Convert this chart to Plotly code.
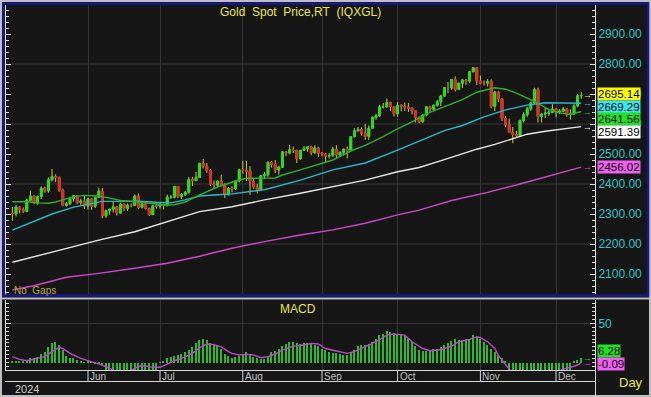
import pandas as pd
import plotly.graph_objects as go

# ---------------- data ----------------
dates = pd.bdate_range("2024-05-03", "2024-12-11").strftime("%Y-%m-%d").tolist()

open_ = [
    2303, 2301, 2323, 2314, 2309, 2346, 2360, 2336, 2358, 2386, 2377, 2414, 2425, 2421, 2379, 2329, 2334, 2351, 2361, 2338, 2343,
    2327, 2350, 2326, 2355, 2376, 2294, 2311, 2316, 2324, 2303, 2333, 2319, 2329, 2328, 2360, 2322, 2334, 2319, 2298, 2327,
    2326, 2332, 2330, 2356, 2356, 2392, 2358, 2364, 2372, 2415, 2411, 2422, 2469, 2459, 2445, 2400, 2396, 2409, 2398, 2364, 2386, 2384, 2410,
    2447, 2446, 2443, 2409, 2390, 2382, 2427, 2431, 2472, 2465, 2447, 2456, 2507, 2503, 2514, 2512, 2484, 2512, 2518, 2524, 2504, 2520,
    2503, 2500, 2493, 2495, 2516, 2497, 2506, 2516, 2512, 2558, 2577, 2582, 2569, 2559, 2586, 2622, 2628, 2657, 2657, 2672, 2658,
    2634, 2662, 2659, 2656, 2653, 2644, 2622, 2608, 2630, 2657, 2649, 2662, 2674, 2693, 2721, 2720, 2748, 2715, 2736, 2747, 2743, 2774, 2788,
    2743, 2736, 2736, 2742, 2659, 2706, 2684, 2618, 2598, 2572, 2565, 2562, 2612, 2631, 2651, 2670, 2715, 2625, 2633, 2636, 2639,
    2650, 2640, 2643, 2650, 2632, 2633, 2660, 2694,
]
high = [
    2324, 2331, 2326, 2322, 2351, 2378, 2361, 2362, 2392, 2391, 2422, 2450, 2432, 2425, 2385, 2340, 2358, 2364, 2362, 2351, 2360,
    2354, 2353, 2359, 2388, 2387, 2315, 2318, 2342, 2327, 2338, 2334, 2335, 2335, 2365, 2368, 2335, 2337, 2320, 2331, 2340,
    2339, 2334, 2365, 2363, 2392, 2393, 2370, 2377, 2424, 2424, 2440, 2469, 2483, 2470, 2450, 2412, 2412, 2431, 2403, 2390, 2393, 2413, 2451,
    2478, 2477, 2460, 2417, 2401, 2431, 2440, 2476, 2477, 2480, 2461, 2509, 2510, 2531, 2525, 2514, 2513, 2527, 2525, 2527, 2529, 2524,
    2505, 2503, 2503, 2524, 2529, 2507, 2518, 2525, 2560, 2586, 2590, 2589, 2600, 2595, 2625, 2634, 2664, 2670, 2685, 2674, 2659,
    2673, 2666, 2672, 2670, 2654, 2645, 2625, 2633, 2660, 2660, 2665, 2680, 2697, 2722, 2740, 2749, 2759, 2736, 2748, 2749, 2775, 2790, 2790,
    2761, 2745, 2750, 2749, 2710, 2709, 2686, 2626, 2618, 2590, 2578, 2615, 2639, 2657, 2674, 2721, 2721, 2637, 2655, 2647, 2666,
    2651, 2650, 2657, 2652, 2649, 2668, 2700, 2707,
]
low = [
    2277, 2292, 2302, 2303, 2306, 2341, 2333, 2331, 2350, 2371, 2371, 2409, 2406, 2374, 2326, 2325, 2331, 2341, 2333, 2328, 2317,
    2315, 2314, 2320, 2354, 2286, 2287, 2298, 2305, 2295, 2302, 2310, 2310, 2322, 2327, 2317, 2318, 2315, 2294, 2298, 2318,
    2318, 2315, 2325, 2350, 2352, 2353, 2350, 2360, 2368, 2393, 2410, 2421, 2452, 2437, 2393, 2384, 2389, 2397, 2353, 2364, 2372, 2380, 2405,
    2434, 2410, 2364, 2384, 2369, 2378, 2416, 2424, 2455, 2436, 2431, 2455, 2493, 2499, 2503, 2470, 2481, 2510, 2507, 2496, 2502, 2490,
    2492, 2472, 2484, 2490, 2485, 2494, 2500, 2485, 2510, 2555, 2576, 2561, 2547, 2546, 2585, 2614, 2623, 2652, 2655, 2643, 2625,
    2624, 2642, 2643, 2640, 2632, 2605, 2603, 2604, 2626, 2640, 2646, 2658, 2660, 2692, 2703, 2714, 2708, 2714, 2720, 2730, 2737, 2773, 2730,
    2732, 2728, 2725, 2652, 2643, 2673, 2610, 2589, 2572, 2536, 2556, 2560, 2605, 2623, 2643, 2670, 2605, 2605, 2620, 2627, 2636,
    2622, 2633, 2639, 2624, 2615, 2631, 2656, 2684,
]
close = [
    2301, 2323, 2314, 2309, 2346, 2360, 2336, 2358, 2386, 2377, 2414, 2425, 2421, 2379, 2329, 2334, 2351, 2361, 2338, 2343, 2327,
    2350, 2326, 2355, 2376, 2294, 2311, 2316, 2324, 2303, 2333, 2319, 2329, 2328, 2360, 2322, 2334, 2319, 2298, 2327, 2326,
    2332, 2330, 2356, 2356, 2392, 2358, 2364, 2372, 2415, 2411, 2422, 2469, 2459, 2445, 2400, 2396, 2409, 2398, 2364, 2386, 2384, 2410, 2447,
    2446, 2443, 2409, 2390, 2382, 2427, 2431, 2472, 2465, 2447, 2456, 2507, 2503, 2514, 2512, 2484, 2512, 2518, 2524, 2504, 2520, 2503,
    2500, 2493, 2495, 2516, 2497, 2506, 2516, 2512, 2558, 2577, 2582, 2569, 2559, 2586, 2622, 2628, 2657, 2657, 2672, 2658, 2634,
    2662, 2659, 2656, 2653, 2644, 2622, 2608, 2630, 2657, 2649, 2662, 2674, 2693, 2721, 2720, 2748, 2715, 2736, 2747, 2743, 2774, 2788, 2743,
    2736, 2736, 2742, 2659, 2706, 2684, 2618, 2598, 2572, 2565, 2562, 2612, 2631, 2651, 2670, 2715, 2625, 2633, 2636, 2639, 2650,
    2640, 2643, 2650, 2632, 2633, 2660, 2694, 2695.14,
]

# moving averages, read at sampled trading days (index into dates)
ma_fast_days = [0, 4, 7, 10, 12, 14, 17, 20, 24, 27, 30, 35, 39, 43, 45, 48, 52, 55, 57, 62, 65, 73, 75, 80, 84, 89, 94, 98,
                103, 106, 111, 115, 120, 125, 129, 134, 137, 140, 143, 146, 149, 152, 155, 158]
ma_fast = [2341, 2341, 2337, 2336, 2340, 2347, 2358, 2362, 2360, 2353, 2345, 2340, 2336, 2330, 2331, 2340, 2364, 2380, 2390,
           2410, 2419, 2420, 2430, 2447, 2462, 2480, 2510, 2529, 2558, 2578, 2607, 2634, 2658, 2681, 2706, 2721, 2716, 2703,
           2686, 2669, 2648, 2637, 2632, 2641.56]

ma_mid_days = [0, 6, 11, 17, 21, 25, 30, 35, 40, 44, 48, 52, 57, 61, 70, 80, 89, 98, 107, 115, 120, 125, 131, 137, 143, 148,
               152, 158]
ma_mid = [2246, 2274, 2300, 2323, 2332, 2342, 2342, 2343, 2339, 2337, 2347, 2360, 2364, 2367, 2381, 2413, 2447, 2470, 2513,
          2554, 2578, 2595, 2624, 2647, 2663, 2671, 2671, 2669.29]

ma_slow_days = [0, 6, 15, 24, 34, 43, 52, 61, 70, 80, 89, 98, 107, 113, 118, 123, 129, 134, 139, 143, 148, 152, 158]
ma_slow = [2139, 2158, 2186, 2213, 2241, 2274, 2308, 2324, 2347, 2369, 2391, 2413, 2441, 2455, 2474, 2494, 2516, 2532, 2552,
           2566, 2576, 2583, 2591.39]

ma_long_days = [0, 6, 15, 24, 34, 43, 52, 61, 70, 80, 89, 98, 107, 113, 122, 132, 141, 150, 158]
ma_long = [2047, 2061, 2089, 2102, 2119, 2136, 2159, 2186, 2208, 2230, 2247, 2269, 2297, 2313, 2345, 2372, 2400, 2430, 2456.02]

macd_hist = [
    2.5, 2, 2, 2, 3.4, 5.5, 6.3, 7.6, 11, 14, 19.5, 24.5, 25.8, 22.4, 16, 8.9, 6.3, 5.5, 3.4, 2, 0.8, 1.3, 0.2, -1.7, -2, -3,
    -10, -12, -14, -15, -16, -15, -14, -13, -12, -12, -11, -11, -10, -10, -10,
    0.8, 2.5, 5.5, 7.6, 8.5, 9.3, 11, 14, 16, 19.5, 24.5, 28.5, 29.6, 28.8, 25.5, 22.7, 21, 17, 11.5, 9, 6.5, 7.5, 9, 9.7,
    14, 9.7, 7.6, 5.5, 4.2, 4.6, 9, 13, 15, 17, 21, 24, 25.8, 26.6, 24.5, 23.7, 25.4, 24.5, 24.5, 23, 21.5, 18, 16, 14,
    12.7, 11.8, 11, 9.7, 9.7, 12, 16, 21, 23, 22.4, 23.5, 26, 29.6, 35, 37, 40.6, 39, 38, 37, 37, 34, 30, 26, 21.5, 16, 15,
    15, 16, 17, 18, 20, 22.4, 24.5, 28, 29.6, 29, 29, 29.6, 29, 35, 33, 29.6, 26.6, 22.4, 18, 14, 9.7, 5.5, 1.3,
    -10, -13, -17, -21, -24, -26, -27, -27, -26, -25, -23, -21, -19, -17, -15, -13, -12, -10,
    1.3, 3.4, 6.28,
]
signal_days = [0, 2, 4, 6, 9, 11, 13, 14, 16, 19, 21, 23, 25, 27, 29, 31, 33, 34, 35, 37, 39, 41, 43, 45, 47, 48, 50, 52, 54,
               56, 58, 60, 61, 63, 65, 67, 69, 71, 73, 75, 78, 81, 83, 85, 87, 90, 93, 95, 97, 98, 101, 104, 106, 109, 111,
               114, 116, 119, 122, 124, 127, 129, 130, 132, 134, 135, 136, 137, 138, 139, 142, 146, 150, 152, 153, 155, 157, 158]
signal = [7.6, 4.2, 2.5, 4.2, 7.6, 14, 19.5, 18, 11.8, 5.5, 2.5, 0, -3, -7.2, -11, -12, -9, -7.6, -4.2, -4.2, -5.9, -5.9,
          -1.7, 2.5, 5.5, 7.6, 11.8, 19, 23.7, 23, 20, 14, 11.8, 9.7, 10.6, 9.7, 6.3, 7.6, 11, 16, 21, 22.4, 24.5, 23.7, 18,
          14.8, 11.8, 14, 18, 21, 26.6, 35, 36.4, 35, 26.6, 18, 15.2, 16.5, 21, 26.6, 29.6, 33, 31.7, 26.6, 18, 9, 3, -3,
          -9, -14, -20, -22, -16, -10, -8, -5.9, -3, -0.09]

price_ticks = [2100, 2200, 2300, 2400, 2500, 2600, 2700, 2800, 2900]
price_grid = [2200, 2400, 2600, 2800]
month_starts = ["2024-06-03", "2024-07-01", "2024-08-01", "2024-09-02", "2024-10-01", "2024-11-01", "2024-12-02"]
month_names = ["Jun", "Jul", "Aug", "Sep", "Oct", "Nov", "Dec"]

# ---------------- styling ----------------
W, H = 651, 397
PL, PR, PT, PB = 6, 56, 5, 27
FONT = "Liberation Sans, Arial, sans-serif"
BG = "#161616"
GRID = "#363636"
WICK = "#c8c83c"
UP, DOWN = "#22dd22", "#e02828"
C_FAST, C_MID, C_SLOW, C_LONG = "#2fae2f", "#2ab8c8", "#e8e8e8", "#cc48cc"
TEAL = "#30c8c8"
YEL = "#e6e650"


def px(x):
    return (x - PL) / (W - PL - PR)


def py(y):
    return (H - PB - y) / (H - PT - PB)


day = list(range(len(dates)))
month_pos = [dates.index(m) for m in month_starts]
body_hi = [max(o, c) for o, c in zip(open_, close)]
body_lo = [min(o, c) for o, c in zip(open_, close)]

fig = go.Figure()

# wicks
fig.add_trace(go.Candlestick(
    x=day, open=open_, high=high, low=low, close=close,
    increasing=dict(line=dict(color=WICK, width=1), fillcolor=WICK),
    decreasing=dict(line=dict(color=WICK, width=1), fillcolor=WICK),
    xaxis="x", yaxis="y", hoverinfo="skip"))
# bodies
fig.add_trace(go.Candlestick(
    x=day, open=open_, high=body_hi, low=body_lo, close=close,
    increasing=dict(line=dict(color=UP, width=1), fillcolor=UP),
    decreasing=dict(line=dict(color=DOWN, width=1), fillcolor=DOWN),
    xaxis="x", yaxis="y"))

for d, v, col in [(ma_long_days, ma_long, C_LONG), (ma_slow_days, ma_slow, C_SLOW),
                  (ma_mid_days, ma_mid, C_MID), (ma_fast_days, ma_fast, C_FAST)]:
    fig.add_trace(go.Scatter(x=d, y=v, mode="lines", line=dict(color=col, width=1.4),
                             xaxis="x", yaxis="y"))

fig.add_trace(go.Bar(x=day, y=macd_hist, width=0.38, marker=dict(color="#2eb82e", line=dict(width=0)),
                     xaxis="x2", yaxis="y2"))
fig.add_trace(go.Scatter(x=signal_days, y=signal, mode="lines", line=dict(color="#c048c8", width=1.4),
                         xaxis="x2", yaxis="y2"))

xr = [-1.78, 161.83]
axis_common = dict(range=xr, tickvals=month_pos, showgrid=True, gridcolor=GRID, gridwidth=1,
                   showticklabels=False, ticks="", zeroline=False, showline=False)

fig.update_layout(
    width=W, height=H,
    margin=dict(l=PL, r=PR, t=PT, b=PB),
    paper_bgcolor=BG, plot_bgcolor=BG,
    showlegend=False,
    font=dict(family=FONT, size=12, color=TEAL),
    bargap=0,
    xaxis=dict(domain=[0, 1], anchor="y", rangeslider=dict(visible=False), **axis_common),
    xaxis2=dict(domain=[0, 1], anchor="y2", matches="x", **axis_common),
    yaxis=dict(domain=[py(295), 1], range=[2030.0, 2996.67], side="right", tickvals=price_ticks,
               tickformat=".2f", tickfont=dict(color=TEAL, size=12, family=FONT),
               ticks="inside", ticklen=5, tickcolor="#e0e0e0", showgrid=False, zeroline=False,
               showline=True, linecolor="#e0e0e0", linewidth=1, mirror="ticks",
               minor=dict(ticks="inside", ticklen=3, dtick=20, tickcolor="#e0e0e0", showgrid=False)),
    yaxis2=dict(domain=[0, py(300)], range=[-9.3, 79.6], side="right", tickvals=[50], ticktext=["50"],
                tickfont=dict(color=TEAL, size=12, family=FONT),
                ticks="inside", ticklen=5, tickcolor="#e0e0e0", showgrid=True, gridcolor=GRID,
                zeroline=False, showline=True, linecolor="#e0e0e0", linewidth=1, mirror="ticks",
                minor=dict(ticks="inside", ticklen=3, dtick=5, tickcolor="#e0e0e0", showgrid=False)),
)

shapes = []
for g in price_grid:
    shapes.append(dict(type="line", xref="x domain", yref="y", x0=0, x1=1, y0=g, y1=g,
                       line=dict(color=GRID, width=1), layer="below"))
# frames
shapes.append(dict(type="rect", xref="paper", yref="paper", x0=px(1), x1=px(650), y0=py(1), y1=py(396),
                   line=dict(color="#c0c0c0", width=2)))
shapes.append(dict(type="rect", xref="paper", yref="paper", x0=px(3.5), x1=px(648), y0=py(3.5), y1=py(295.5),
                   line=dict(color="#18188e", width=2.5)))
shapes.append(dict(type="line", xref="paper", yref="paper", x0=px(0), x1=px(651), y0=py(298.5), y1=py(298.5),
                   line=dict(color="#c0c0c0", width=2)))
for yline in (370.5, 381.5):
    shapes.append(dict(type="line", xref="paper", yref="paper", x0=px(5), x1=px(596), y0=py(yline), y1=py(yline),
                       line=dict(color="#d8d8d8", width=1)))
shapes.append(dict(type="line", xref="paper", yref="paper", x0=px(595.5), x1=px(595.5), y0=py(370), y1=py(397),
                   line=dict(color="#d8d8d8", width=1)))
for m in month_pos:
    shapes.append(dict(type="line", xref="x", yref="paper", x0=m, x1=m, y0=py(370.5), y1=py(381.5),
                       line=dict(color="#d8d8d8", width=1)))

ann = []


def text(x, y, s, color, size, anchor="left", **kw):
    ann.append(dict(x=px(x), y=py(y), xref="paper", yref="paper", text=s, showarrow=False,
                    xanchor=anchor, yanchor="middle", font=dict(color=color, size=size, family=FONT), **kw))


NB = "\u00a0"
text(300, 12, f"Gold{NB} Spot{NB} Price,RT{NB} (IQXGL)", YEL, 12, "center")
text(12, 290, f"No{NB} Gaps", "#b8a83c", 10)
text(298, 309, "MACD", YEL, 12, "center")
text(13, 389, "2024", "#d0d0d0", 11)
text(617, 382, "Day", YEL, 13)
for m, name in zip(month_pos, month_names):
    ann.append(dict(x=m, y=py(376.5), xref="x", yref="paper", text=name, showarrow=False, xanchor="left",
                    yanchor="middle", xshift=0, font=dict(color="#c0c0c0", size=10, family=FONT)))

# last-value boxes
boxes = [(f"{close[-1]:.2f}", "#ffff00", 94), (f"{ma_mid[-1]:.2f}", "#33e8f0", 106.5),
         (f"{ma_fast[-1]:.2f}", "#22e022", 119), (f"{ma_slow[-1]:.2f}", "#ffffff", 131.5),
         (f"{ma_long[-1]:.2f}", "#f060f0", 167),
         (f"{macd_hist[-1]:.2f}", "#22e022", 351), (f"{signal[-1]:.2f}", "#f060f0", 363.5)]
for s, bg, y in boxes:
    text(597, y, s, "#000000", 11.5, bgcolor=bg, borderpad=0)

# arrows pointing at last values
arrows = [(close[-1], "#e6e650", "y"), (ma_mid[-1], C_MID, "y"), (ma_fast[-1], C_FAST, "y"),
          (ma_slow[-1], C_SLOW, "y"), (ma_long[-1], C_LONG, "y"),
          (macd_hist[-1], "#2eb82e", "y2"), (signal[-1], "#c048c8", "y2")]
for v, col, yr in arrows:
    ann.append(dict(x=px(587), y=v, xref="paper", yref=yr, text="→", showarrow=False, xanchor="center",
                    yanchor="middle", font=dict(color=col, size=9, family=FONT)))

fig.update_layout(shapes=shapes, annotations=ann)
fig.write_html("out.html", config={"displayModeBar": False},
               post_script="document.body.style.margin='0';document.body.style.padding='0';"
                           "document.body.style.overflow='hidden';")
